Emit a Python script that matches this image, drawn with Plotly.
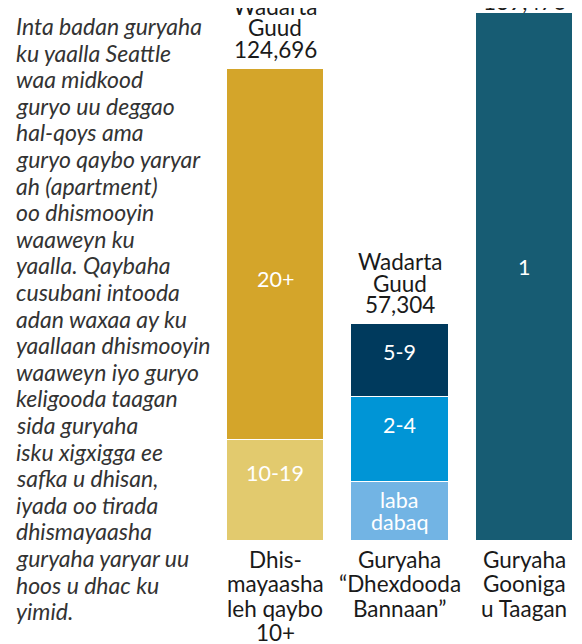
import plotly.graph_objects as go

# ---- data ----
categories = ["Dhis-<br>mayaasha<br>leh qaybo<br>10+",
              "Guryaha<br>“Dhexdooda<br>Bannaan”",
              "Guryaha<br>Gooniga<br>u Taagan"]
x_pos = [0, 1, 2]
seg_names = ["10-19", "20+", "laba<br>dabaq", "2-4", "5-9", "1"]
seg_values = [
    [26683, None, None],
    [98013, None, None],
    [None, 15650, None],
    [None, 22300, None],
    [None, 19354, None],
    [None, None, 139476],
]
totals = [124696, 57304, 139476]
total_labels = ["Wadarta<br>Guud<br>124,696", "Wadarta<br>Guud<br>57,304", "Wadarta<br>Guud<br>139,476"]
intro_text = ("Inta badan guryaha<br>ku yaalla Seattle<br>waa midkood<br>guryo uu deggao<br>"
              "hal-qoys ama<br>guryo qaybo yaryar<br>ah (apartment)<br>oo dhismooyin<br>"
              "waaweyn ku<br>yaalla. Qaybaha<br>cusubani intooda<br>adan waxaa ay ku<br>"
              "yaallaan dhismooyin<br>waaweyn iyo guryo<br>keligooda taagan<br>sida guryaha<br>"
              "isku xigxigga ee<br>safka u dhisan,<br>iyada oo tirada<br>dhismayaasha<br>"
              "guryaha yaryar uu<br>hoos u dhac ku<br>yimid.")

# ---- style ----
seg_colors = ["#E2CA6E", "#D4A52A", "#72B4E4", "#0095D6", "#003A5D", "#175C73"]
label_yshift = [18, -25, 0, 15, 9, 10]
total_gap = [19.5, 19.5, 12]
FONT = "Lato, 'Open Sans', sans-serif"
FS = 22.5
INK = "#1a1a1a"

fig = go.Figure()
for name, vals, col in zip(seg_names, seg_values, seg_colors):
    fig.add_trace(go.Bar(x=x_pos, y=vals, name=name,
                         marker=dict(color=col, line=dict(color="white", width=1.5)),
                         width=0.78, showlegend=False, hoverinfo="skip"))

annotations = []
# inside segment labels
base = [0, 0, 0]
for name, vals, ys in zip(seg_names, seg_values, label_yshift):
    for i, v in enumerate(vals):
        if v is None:
            continue
        lines = name.split("<br>")
        n = len(lines)
        for k, ln in enumerate(lines):
            off = ((n - 1) / 2 - k) * 22
            annotations.append(dict(x=x_pos[i], y=base[i] + v / 2, xref="x", yref="y", text=ln,
                                    showarrow=False, yshift=ys + off,
                                    font=dict(family=FONT, size=FS - 1, color="white")))
        base[i] += v

# totals
for i, (t, lab) in enumerate(zip(totals, total_labels)):
    lines = lab.split("<br>")
    n = len(lines)
    for k, ln in enumerate(lines):
        annotations.append(dict(x=x_pos[i], y=t, xref="x", yref="y", text=ln, showarrow=False,
                                yanchor="middle", yshift=total_gap[i] + (n - 1 - k) * 21.5,
                                font=dict(family=FONT, size=FS, color=INK)))

# category labels
for i, c in enumerate(categories):
    for k, ln in enumerate(c.split("<br>")):
        annotations.append(dict(x=x_pos[i], y=0, xref="x", yref="y", text=ln, showarrow=False,
                                yanchor="middle", yshift=-(18 + 24.5 * k),
                                font=dict(family=FONT, size=FS, color=INK)))

# intro text
for k, ln in enumerate(intro_text.split("<br>")):
    annotations.append(dict(x=-196 / 372, y=1, xref="paper", yref="paper", text=ln, showarrow=False,
                            xanchor="left", yanchor="middle", yshift=-(18 + 26.6 * k),
                            font=dict(family=FONT, size=23, color="#333333", style="italic")))

fig.update_layout(
    width=582, height=644,
    margin=dict(l=202, r=8, t=0, b=111),
    barmode="stack",
    bargap=0,
    paper_bgcolor="white", plot_bgcolor="white",
    xaxis=dict(range=[-0.526, 2.462], visible=False, fixedrange=True),
    yaxis=dict(range=[0, 140808], visible=False, fixedrange=True),
    annotations=annotations,
    font=dict(family=FONT),
)

fig.write_html("out.html", config={"displayModeBar": False})
